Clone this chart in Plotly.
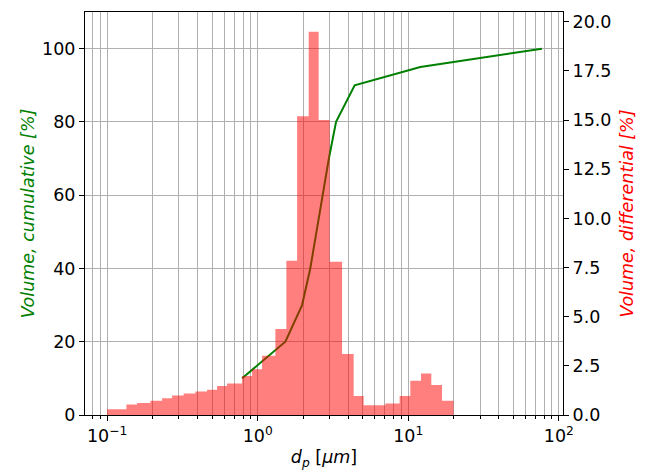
import plotly.graph_objects as go

# ---- data ----
bin_edges_um = [0.1, 0.1343, 0.1582, 0.1939, 0.2318, 0.2701, 0.3226, 0.3858, 0.4613,
                0.5375, 0.6261, 0.7877, 0.918, 1.0696, 1.3107, 1.5508, 1.8267, 2.1815,
                2.5411, 3.0076, 3.6345, 4.3401, 5.0559, 5.972, 7.0468, 8.768, 10.325,
                12.162, 14.234, 16.765, 20.0]
diff_volume_pct = [0.29, 0.53, 0.61, 0.73, 0.85, 0.99, 1.10, 1.19, 1.28, 1.48, 1.60,
                   1.99, 2.33, 3.01, 4.37, 7.85, 15.2, 19.5, 15.0, 7.8, 3.1, 0.97,
                   0.49, 0.49, 0.59, 0.97, 1.74, 2.11, 1.52, 0.73]

cum_size_um = [0.788, 1.527, 1.972, 2.235, 2.457, 2.689, 2.971, 3.316, 4.407, 12.03, 77.3]
cum_volume_pct = [10, 20, 30, 40, 50, 60, 70, 80, 90, 95, 100]

x_tick_vals = [0.1, 1, 10, 100]
x_tick_text = ['10<sup>−1</sup>', '10<sup>0</sup>', '10<sup>1</sup>', '10<sup>2</sup>']
y1_ticks = [0, 20, 40, 60, 80, 100]
y2_ticks = [0.0, 2.5, 5.0, 7.5, 10.0, 12.5, 15.0, 17.5, 20.0]

minor_x = [k * 10.0 ** e for e in range(-2, 2) for k in range(2, 10)]

FONT = "DejaVu Sans"
FS = 17.5
GRID = "#b0b0b0"

fig = go.Figure()

# cumulative line (left axis)
fig.add_trace(go.Scatter(
    x=cum_size_um, y=cum_volume_pct, mode="lines",
    line=dict(color="green", width=2), yaxis="y", showlegend=False,
    name="cumulative"))

# differential histogram (right axis) as step-filled bars
fig.add_trace(go.Scatter(
    x=bin_edges_um, y=diff_volume_pct + [diff_volume_pct[-1]],
    mode="lines", line=dict(width=0, shape="hv"),
    fill="tozeroy", fillcolor="rgba(255,0,0,0.5)",
    yaxis="y2", showlegend=False, name="differential"))

fig.update_layout(
    width=646, height=470,
    margin=dict(l=85, r=83, t=12, b=55),
    plot_bgcolor="white", paper_bgcolor="white",
    font=dict(family=FONT, size=FS, color="black"),
    xaxis=dict(
        type="log", range=[-1.147, 2.028], automargin=False,
        tickmode="array", tickvals=x_tick_vals, ticktext=x_tick_text,
        ticks="outside", ticklen=5, tickwidth=1, tickcolor="black",
        showline=True, linecolor="black", linewidth=1, mirror=True,
        showgrid=True, gridcolor=GRID, gridwidth=1,
        minor=dict(tickmode="array", tickvals=minor_x, ticks="outside",
                   ticklen=3, tickcolor="black", showgrid=True,
                   gridcolor=GRID, gridwidth=1),
        title=dict(text="<i>d</i><sub><i>p</i></sub> [<i>μm</i>]",
                   font=dict(size=FS), standoff=9),
        zeroline=False,
    ),
    yaxis=dict(
        range=[0, 110], tickmode="array", tickvals=y1_ticks, automargin=False,
        ticks="outside", ticklen=5, tickcolor="black",
        showline=True, linecolor="black", linewidth=1,
        showgrid=True, gridcolor=GRID, gridwidth=1, zeroline=False,
        title=dict(text="<i>Volume, cumulative [%]</i>",
                   font=dict(color="green", size=FS), standoff=2),
    ),
    yaxis2=dict(
        range=[0, 20.5], overlaying="y", side="right", automargin=False,
        tickmode="array", tickvals=y2_ticks, tickformat=".1f",
        ticks="outside", ticklen=5, tickcolor="black",
        showline=True, linecolor="black", linewidth=1,
        showgrid=False, zeroline=False,
        title=dict(text="<i>Volume, differential [%]</i>",
                   font=dict(color="red", size=FS), standoff=10),
    ),
)

fig.write_html("out.html")
